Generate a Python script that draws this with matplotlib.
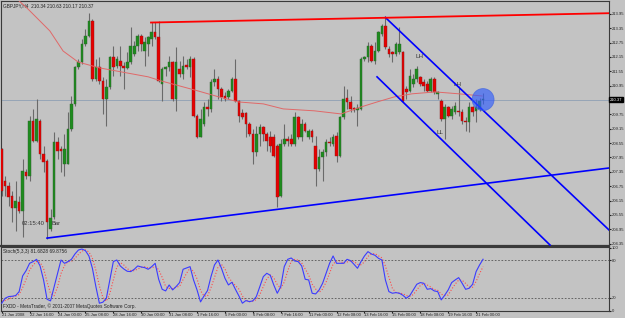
import numpy as np
import matplotlib.pyplot as plt
from matplotlib.patches import Ellipse
import matplotlib.transforms as mtransforms

# GBPJPY H4 candles, bar 0 = 21 Jan 2008
opens = [
    208.31, 206.97, 206.76, 206.34, 205.84, 206.09, 205.72, 207.35, 207.18, 209.48,
    208.64, 209.48, 208.10, 207.81, 204.96, 205.47, 208.60, 208.31, 207.68, 207.68,
    209.14, 210.19, 211.73, 211.94, 212.70, 213.03, 213.66, 211.23, 211.73, 211.15,
    210.40, 210.90, 212.15, 211.78, 211.99, 211.78, 211.69, 211.94, 212.28, 212.61,
    213.03, 212.40, 212.70, 212.90, 213.20, 212.99, 211.02, 211.65, 211.73, 211.94,
    210.40, 211.65, 211.44, 211.82, 211.73, 212.07, 209.69, 208.81, 209.35, 210.06,
    209.98, 211.11, 211.23, 210.81, 210.52, 210.48, 210.73, 211.23, 210.31, 209.81,
    209.81, 209.35, 208.93, 208.18, 208.93, 209.23, 208.93, 208.81, 208.81, 208.43,
    206.34, 208.52, 208.72, 208.72, 208.52, 209.64, 208.81, 209.35, 208.81, 209.06,
    208.43, 207.47, 207.97, 208.18, 208.60, 208.52, 208.85, 208.01, 209.64, 210.44,
    210.27, 210.02, 209.94, 209.98, 212.07, 212.15, 212.61, 211.99, 212.40, 213.11,
    213.45, 212.49, 212.36, 212.28, 212.36, 212.36, 210.81, 210.73, 211.02, 211.23,
    211.32, 211.11, 211.02, 210.73, 211.23, 210.61, 210.31, 209.56, 210.06, 209.69,
    209.85, 209.90, 209.85, 209.48, 209.43, 210.06, 209.90, 209.98, 210.34]
highs = [
    208.35, 207.18, 206.93, 206.55, 206.97, 206.34, 207.89, 207.47, 209.69, 209.98,
    210.40, 209.56, 208.43, 207.89, 205.80, 209.02, 208.81, 208.43, 208.93, 209.85,
    210.52, 211.78, 212.07, 212.90, 213.32, 213.99, 213.74, 212.07, 212.15, 211.32,
    211.23, 212.19, 212.61, 212.19, 212.61, 211.94, 212.36, 213.41, 212.82, 213.11,
    213.11, 212.99, 213.03, 213.62, 213.62, 213.66, 211.73, 211.78, 212.19, 211.99,
    212.57, 211.99, 212.19, 212.07, 212.19, 212.15, 209.77, 209.98, 210.27, 210.40,
    211.23, 211.65, 211.36, 210.90, 210.69, 210.81, 211.32, 212.07, 210.36, 209.98,
    209.85, 209.43, 209.14, 209.27, 209.35, 209.27, 209.02, 209.06, 208.93, 208.52,
    208.72, 209.35, 208.85, 208.93, 209.85, 209.69, 209.56, 209.43, 209.14, 209.14,
    208.85, 208.31, 208.31, 208.72, 208.81, 208.93, 209.02, 209.69, 210.94, 210.81,
    210.52, 210.06, 210.19, 212.15, 212.19, 212.78, 212.70, 212.78, 213.24, 213.53,
    213.87, 212.61, 212.40, 212.78, 213.41, 212.40, 210.94, 211.65, 211.44, 211.78,
    211.36, 211.23, 211.15, 211.32, 211.32, 210.73, 210.40, 210.19, 210.10, 210.10,
    210.27, 210.94, 209.98, 209.64, 210.27, 210.10, 210.40, 210.44, 210.63]
lows = [
    206.34, 206.34, 205.92, 205.26, 204.88, 205.63, 204.63, 207.05, 206.97, 208.60,
    208.60, 207.89, 207.35, 204.54, 204.88, 205.38, 207.89, 207.35, 207.18, 207.68,
    209.06, 210.10, 211.65, 211.86, 212.61, 212.99, 211.15, 211.15, 211.02, 209.77,
    209.27, 210.81, 211.36, 211.69, 211.36, 210.81, 211.65, 211.86, 212.19, 212.40,
    212.40, 211.78, 212.19, 212.61, 212.90, 211.11, 210.31, 211.36, 211.57, 210.31,
    209.90, 211.32, 211.23, 211.65, 211.32, 209.64, 208.76, 208.81, 209.27, 209.69,
    209.85, 210.94, 210.40, 210.31, 210.31, 210.40, 210.69, 210.27, 209.43, 209.56,
    208.81, 208.85, 207.68, 208.01, 208.43, 208.64, 208.22, 208.18, 207.97, 205.88,
    206.30, 208.43, 208.43, 208.43, 208.43, 208.72, 208.64, 209.02, 208.72, 208.60,
    206.76, 207.39, 206.97, 208.01, 208.43, 208.43, 207.76, 207.97, 209.56, 209.98,
    209.85, 209.85, 209.27, 209.94, 211.99, 211.94, 211.94, 211.86, 212.36, 213.03,
    212.49, 212.15, 211.94, 212.19, 212.28, 210.27, 210.40, 210.69, 210.90, 211.11,
    210.94, 210.73, 210.69, 210.69, 210.61, 210.40, 209.48, 208.72, 209.64, 209.56,
    209.77, 209.69, 209.35, 209.06, 209.02, 209.69, 209.43, 209.90, 210.17]
closes = [
    206.55, 206.76, 206.30, 205.84, 206.13, 205.72, 207.39, 207.18, 209.48, 208.64,
    209.56, 208.10, 207.76, 205.26, 205.42, 208.60, 208.22, 208.22, 208.31, 209.14,
    210.19, 211.73, 211.94, 212.70, 213.03, 213.66, 211.23, 211.73, 211.15, 210.40,
    210.90, 212.15, 211.73, 212.07, 211.78, 211.69, 211.94, 212.61, 212.61, 213.03,
    212.70, 212.78, 212.99, 213.20, 212.99, 211.15, 211.65, 211.73, 211.94, 210.40,
    211.94, 211.44, 211.78, 211.73, 212.07, 209.69, 208.81, 209.56, 210.06, 209.98,
    211.11, 211.23, 210.81, 210.48, 210.40, 210.73, 211.23, 210.31, 209.69, 209.64,
    209.35, 208.93, 208.18, 208.93, 209.23, 208.93, 208.64, 208.43, 208.01, 206.30,
    208.52, 208.72, 208.64, 208.52, 209.64, 208.81, 209.35, 209.06, 209.06, 208.81,
    207.47, 207.97, 208.18, 208.60, 208.56, 208.81, 208.01, 209.64, 210.40, 210.27,
    209.98, 209.94, 210.02, 212.07, 212.15, 212.61, 211.99, 212.40, 213.20, 213.45,
    212.57, 212.28, 212.28, 212.70, 212.70, 210.31, 210.69, 211.36, 211.23, 211.65,
    211.02, 210.94, 210.73, 211.23, 210.69, 210.69, 209.56, 210.06, 209.69, 209.98,
    210.10, 209.85, 209.48, 209.43, 210.06, 209.85, 210.06, 210.31, 210.37]

# moving average (bar index, price)
ma_idx = [5, 7.5, 13.8, 17.6, 21.9, 25.9, 28.2, 42, 45.7, 56.3, 62.3, 68, 75,
          80.7, 89.6, 97.3, 103, 107.6, 112.5, 117.6, 124.3, 131.1, 137.7]
ma_val = [214.49, 214.16, 213.24, 212.40, 211.94, 211.78, 211.69, 211.32, 211.15,
          210.73, 210.48, 210.27, 210.19, 209.98, 209.90, 209.77, 210.06, 210.27,
          210.48, 210.61, 210.69, 210.61, 210.52]

# trend lines: (x0, y0, x1, y1) in bars / price
red_line = (42.8, 213.59, 174.1, 213.98)
support_line = (13.0, 204.58, 174.1, 207.51)
channel_top = (110.0, 213.80, 174.1, 204.92)
channel_bot = (107.6, 211.32, 157.2, 204.29)

# Stoch(5,3,3)
k_vals = [
    11.6, 19.5, 22.2, 22.7, 23.8, 30.1, 55.1, 63.6, 75.2, 77.9,
    81.6, 71.0, 48.7, 17.9, 15.3, 37.0, 59.3, 80.5, 75.2, 77.9,
    81.6, 90.1, 96.4, 98.0, 95.4, 86.9, 67.3, 38.1, 11.6, 13.2,
    19.5, 48.7, 77.9, 80.5, 71.0, 66.2, 62.5, 62.0, 65.7, 71.0,
    69.4, 68.3, 65.7, 69.9, 75.2, 49.8, 33.8, 31.2, 40.7, 32.8,
    38.1, 44.5, 65.7, 67.8, 69.9, 48.7, 32.8, 13.7, 23.2, 31.7,
    54.0, 72.6, 80.5, 67.3, 51.4, 40.7, 45.0, 33.8, 23.2, 11.6,
    15.8, 14.2, 15.3, 22.2, 38.1, 54.0, 59.3, 56.1, 40.7, 27.5,
    38.1, 69.9, 81.6, 83.7, 78.9, 77.9, 71.0, 49.8, 48.7, 27.5,
    26.4, 32.8, 43.4, 59.3, 75.2, 86.9, 75.2, 75.2, 75.2, 81.6,
    79.5, 73.6, 67.3, 77.9, 86.9, 93.8, 90.1, 88.0, 83.2, 80.5,
    48.7, 30.1, 27.5, 28.5, 27.5, 24.3, 19.5, 23.8, 32.8, 41.8,
    44.5, 43.4, 33.8, 34.9, 31.2, 30.1, 16.9, 24.3, 32.8, 44.5,
    48.7, 52.4, 43.4, 33.8, 35.4, 41.8, 62.0, 72.6, 81.7]
d_vals = [
    15.0, 16.0, 17.8, 21.5, 22.9, 25.5, 36.3, 49.6, 64.6, 72.2,
    78.2, 76.8, 67.1, 45.9, 27.3, 23.4, 37.2, 58.9, 71.7, 77.9,
    78.2, 83.2, 89.4, 94.8, 96.6, 93.4, 83.2, 64.1, 39.0, 21.0,
    14.8, 27.1, 48.7, 69.0, 76.5, 72.6, 66.6, 63.6, 63.4, 66.2,
    68.7, 69.6, 67.8, 68.0, 70.3, 65.0, 52.9, 38.3, 35.2, 34.9,
    37.2, 38.5, 49.4, 59.3, 67.8, 62.1, 50.5, 31.7, 23.2, 22.9,
    36.3, 52.8, 69.0, 73.5, 66.4, 53.1, 45.7, 39.8, 34.0, 22.9,
    16.9, 13.9, 15.1, 17.2, 25.2, 38.1, 50.5, 56.5, 52.0, 41.4,
    35.4, 45.2, 63.2, 78.4, 81.4, 80.2, 75.9, 66.2, 56.5, 42.0,
    34.2, 28.9, 34.2, 45.2, 59.3, 73.8, 79.1, 79.1, 75.2, 77.3,
    78.8, 78.2, 73.5, 72.9, 77.4, 86.2, 90.3, 90.6, 87.1, 83.9,
    70.8, 53.1, 35.4, 28.7, 27.8, 26.8, 23.8, 22.5, 25.4, 32.8,
    39.7, 43.2, 40.6, 37.4, 33.3, 32.1, 26.1, 23.8, 24.7, 33.9,
    42.0, 48.5, 48.2, 43.2, 37.5, 37.0, 46.4, 58.8, 69.9]

time_labels = ["21 Jan 2008", "22 Jan 16:00", "24 Jan 00:00", "25 Jan 08:00",
               "28 Jan 16:00", "30 Jan 00:00", "31 Jan 08:00", "1 Feb 16:00",
               "5 Feb 00:00", "6 Feb 08:00", "7 Feb 16:00", "11 Feb 00:00",
               "12 Feb 08:00", "13 Feb 16:00", "15 Feb 00:00", "18 Feb 08:00",
               "19 Feb 16:00", "21 Feb 00:00"]
price_ticks = [213.95, 213.35, 212.75, 212.15, 211.55, 210.95, 209.75, 209.15,
               208.55, 207.95, 207.35, 206.75, 206.15, 205.55, 204.95, 204.35]
last_price = 210.37

plt.rcParams['font.family'] = ['Liberation Sans', 'DejaVu Sans']

bg = "#c3c3c3"
fs = 3.0
W, H = 625, 318


def box(x0, y0, x1, y1):
    return [x0 / W, 1 - y1 / H, (x1 - x0) / W, (y1 - y0) / H]


fig = plt.figure(figsize=(6.25, 3.18), dpi=100, facecolor=bg)
ax = fig.add_axes(box(1, 1, 609, 246), facecolor=bg)
ax2 = fig.add_axes(box(1, 247, 609, 310.5), facecolor=bg, sharex=ax)

o = np.array(opens)
h = np.array(highs)
l = np.array(lows)
c = np.array(closes)
idx = np.arange(len(o))
up = c >= o

ax.vlines(idx, l, h, color="#6a6a6a", lw=0.8, zorder=2)
body_lo = np.minimum(o, c)
body_h = np.maximum(np.abs(c - o), 0.035)
ax.bar(idx[up], body_h[up], bottom=body_lo[up], width=0.75,
       color="#1e8c1e", edgecolor="#2f5f2f", lw=0.3, zorder=3)
ax.bar(idx[~up], body_h[~up], bottom=body_lo[~up], width=0.75,
       color="#e60000", edgecolor="#8a1a1a", lw=0.3, zorder=3)

ax.plot(ma_idx, ma_val, color="#e06868", lw=0.7, zorder=4)
ax.axhline(last_price, color="#8fa0b4", lw=0.6, zorder=1)

for x0, y0, x1, y1 in [support_line, channel_top, channel_bot]:
    ax.plot([x0, x1], [y0, y1], color="#0000ff", lw=1.2, zorder=5)
ax.plot([red_line[0], red_line[2]], [red_line[1], red_line[3]],
        color="#ff0000", lw=1.3, zorder=5)

ax.add_patch(Ellipse((138, 210.37), 6.3, 0.92, facecolor="#2f5cff",
                     edgecolor="#3a60e0", alpha=0.65, lw=0.6, zorder=6))

ax.text(119.7, 212.15, "LH", fontsize=4.5, color="#333333", ha="center", va="center")
ax.text(130.8, 211.02, "LH", fontsize=4.5, color="#333333", ha="center", va="center")
ax.text(125.7, 208.98, "LL", fontsize=4.5, color="#333333", ha="center", va="center")
ax.text(5.8, 205.21, "02:15:40", fontsize=4.2, color="#333333", va="center")
ax.text(14.4, 205.21, "Bar", fontsize=4.2, color="#333333", va="center")
ax.text(0.004, 0.99, "GBPJPY,H4  210.34 210.63 210.17 210.37", transform=ax.transAxes,
        fontsize=3.4, color="#222222", va="top")

ax.set_xlim(-0.2, 174.1)
ax.set_ylim(204.25, 214.49)
ax.yaxis.tick_right()
ax.set_yticks(price_ticks)
ax.set_yticklabels(["%.2f" % p for p in price_ticks])
ax.tick_params(axis="y", labelsize=fs, length=1.5, pad=0.6, colors="#222222")
ax.tick_params(axis="x", bottom=False, labelbottom=False)
trans = mtransforms.blended_transform_factory(ax.transAxes, ax.transData)
ax.text(1.0015, last_price, "210.37", transform=trans, fontsize=fs, color="white",
        va="center", ha="left",
        bbox=dict(boxstyle="square,pad=0.15", facecolor="black", edgecolor="black"))

# stochastic
ax2.plot(idx, k_vals, color="#3b3bff", lw=0.8, zorder=3)
ax2.plot(idx, d_vals, color="#ff4a4a", lw=0.8, ls=":", zorder=2)
for lev in (80, 20):
    ax2.axhline(lev, color="#555555", lw=0.6, ls=(0, (2, 2)))
ax2.set_ylim(0, 101.2)
ax2.yaxis.tick_right()
ax2.set_yticks([100, 80, 20, 0])
ax2.set_yticklabels(["100", "80", "20", "0"])
ax2.tick_params(axis="y", labelsize=fs, length=1.5, pad=0.6, colors="#222222")
ax2.set_xticks(np.arange(len(time_labels)) * 8)
ax2.set_xticklabels(time_labels, ha="left")
ax2.tick_params(axis="x", labelsize=fs, length=1.5, pad=0.3, colors="#222222")
ax2.text(0.004, 0.97, "Stoch(5,3,3) 81.6828 69.8756", transform=ax2.transAxes,
         fontsize=3.4, color="#222222", va="top")
ax2.text(0.004, 0.02, "FXDD - MetaTrader, \u00a9 2001-2007 MetaQuotes Software Corp.",
         transform=ax2.transAxes, fontsize=3.4, color="#222222", va="bottom")

for a in (ax, ax2):
    for s in a.spines.values():
        s.set_color("#3a3a3a")
        s.set_linewidth(0.8)
ax.spines["bottom"].set_linewidth(1.6)

fig.savefig("out.png", dpi=100, facecolor=bg)
